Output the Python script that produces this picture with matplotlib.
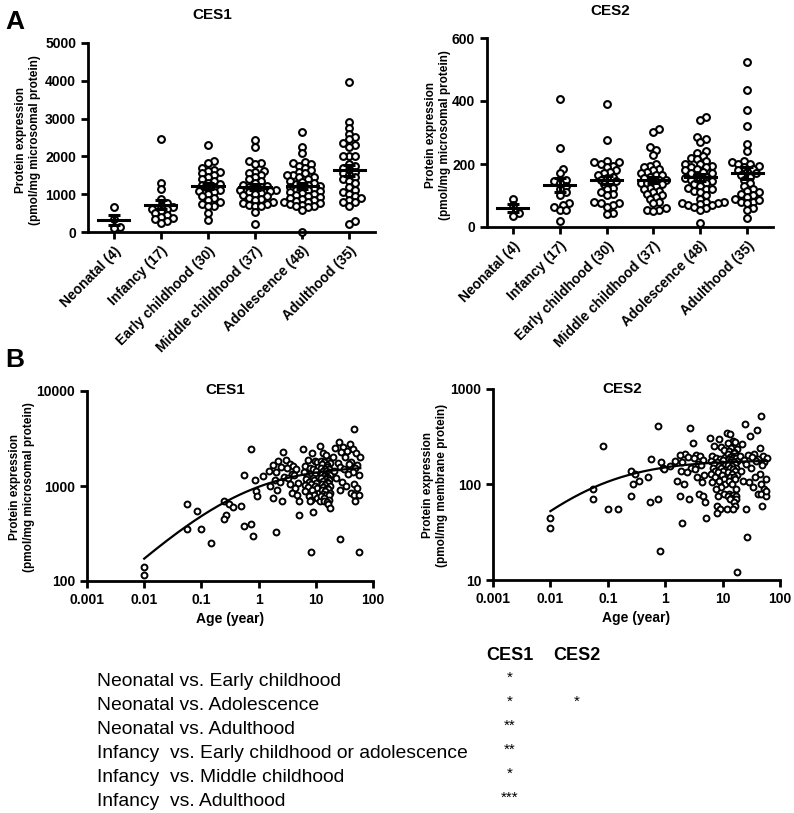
import numpy as np
import matplotlib
matplotlib.use("Agg")
import matplotlib.pyplot as plt
from matplotlib.ticker import FixedLocator, FixedFormatter

plt.rcParams['font.family'] = ['Liberation Sans', 'DejaVu Sans']

groups = ['Neonatal (4)', 'Infancy (17)', 'Early childhood (30)',
          'Middle childhood (37)', 'Adolescence (48)', 'Adulthood (35)']

# CES1 (pmol/mg microsomal protein), one list per age group
ces1_neonatal = [650, 350, 140, 115]
ces1_infancy = [2460, 1300, 1150, 880, 780, 700, 650, 620, 600, 550, 500, 450, 400, 380, 350, 300, 250]
ces1_early = [2300, 1880, 1820, 1700, 1650, 1620, 1580, 1550, 1500, 1450, 1400, 1350, 1300, 1280, 1250,
              1200, 1150, 1100, 1080, 1050, 1000, 950, 900, 850, 800, 750, 700, 700, 500, 330]
ces1_middle = [2430, 2250, 1880, 1830, 1800, 1620, 1600, 1550, 1500, 1450, 1400, 1350, 1300, 1250, 1220,
               1200, 1180, 1150, 1120, 1100, 1080, 1050, 1020, 1000, 980, 950, 900, 880, 850, 800,
               780, 750, 720, 700, 700, 530, 200]
ces1_adolescence = [2650, 2250, 2100, 1850, 1830, 1800, 1750, 1700, 1650, 1600, 1550, 1500, 1500, 1450, 1450,
                    1400, 1350, 1320, 1300, 1280, 1250, 1220, 1200, 1180, 1150, 1120, 1100, 1080, 1050, 1020,
                    1000, 980, 950, 920, 900, 880, 850, 820, 800, 800, 780, 750, 720, 700, 680, 650, 580, 10]
ces1_adult = [3980, 2900, 2750, 2600, 2500, 2450, 2350, 2300, 2250, 2000, 2000, 2000, 1800, 1750, 1700,
              1650, 1600, 1550, 1500, 1450, 1400, 1350, 1300, 1200, 1100, 1050, 1000, 950, 900, 850,
              800, 800, 700, 280, 200]

# CES2, same samples
ces2_neonatal = [90, 70, 45, 35]
ces2_infancy = [405, 185, 170, 150, 145, 140, 130, 120, 110, 250, 100, 75, 70, 65, 55, 20, 55]
ces2_early = [390, 275, 210, 205, 205, 200, 195, 190, 180, 175, 170, 165, 160, 155, 150,
              145, 140, 135, 125, 120, 110, 105, 100, 80, 75, 75, 70, 65, 45, 40]
ces2_middle = [310, 300, 255, 245, 230, 200, 195, 190, 185, 180, 175, 170, 165, 165, 160,
               155, 150, 150, 145, 140, 140, 135, 130, 125, 120, 115, 110, 105, 100, 95,
               90, 80, 75, 60, 55, 55, 50]
ces2_adolescence = [350, 340, 285, 280, 270, 240, 235, 225, 220, 215, 210, 200, 200, 195, 190,
                    190, 185, 180, 175, 170, 170, 165, 160, 155, 150, 150, 145, 140, 135, 130,
                    125, 120, 120, 115, 110, 100, 90, 80, 78, 75, 75, 72, 70, 70, 65, 60, 12, 55]
ces2_adult = [525, 435, 370, 320, 265, 240, 210, 205, 200, 200, 195, 190, 185, 180, 175,
              170, 165, 160, 150, 140, 130, 120, 115, 110, 105, 100, 95, 90, 28, 80,
              80, 75, 60, 55, 85]

# age (years) of each sample
age_neonatal = [0.056, 0.056, 0.01, 0.01]
age_infancy = [0.75, 0.56, 0.85, 0.9, 0.95, 0.25, 0.3, 0.5, 0.35, 0.084, 0.27, 0.25, 0.75, 0.55, 0.1, 0.8, 0.15]
age_early = [2.7, 3.0, 2.2, 3.5, 1.8, 4.0, 2.5, 3.2, 4.5, 1.5, 2.0, 3.8, 4.2, 1.2, 2.8,
             3.3, 1.9, 2.4, 4.8, 3.6, 1.6, 4.4, 2.1, 3.9, 4.6, 1.8, 2.6, 5.0, 5.1, 2.0]
age_middle = [6.0, 8.5, 7.2, 9.5, 10.5, 6.5, 11.0, 7.8, 9.0, 10.0, 6.2, 8.0, 9.8, 7.0, 10.8,
              8.8, 6.8, 9.2, 11.5, 7.5, 10.2, 8.2, 6.4, 9.6, 7.4, 10.6, 8.6, 6.6, 11.2, 9.4,
              7.6, 10.4, 8.4, 7.9, 11.8, 9.1, 8.1]
age_adolescence = [12.0, 13.5, 15.0, 16.5, 12.5, 14.0, 17.5, 13.0, 15.5, 16.0, 12.2, 14.5, 17.0, 13.2, 15.2,
                   16.8, 12.8, 14.2, 17.8, 13.8, 15.8, 16.2, 12.4, 14.8, 17.2, 13.4, 15.4, 16.6, 12.6, 14.4,
                   17.6, 13.6, 15.6, 16.4, 12.9, 14.6, 17.4, 13.1, 15.1, 16.9, 12.3, 14.1, 17.1, 13.7, 15.7,
                   16.3, 18.0, 14.9]
age_adult = [47, 25, 40, 30, 22, 45, 35, 28, 50, 20, 33, 60, 42, 24, 38, 52, 26, 48, 31, 21,
             44, 36, 58, 23, 29, 47, 34, 53, 27, 41, 46, 57, 49, 26, 56]

# fitted age curves (Emax, EC50 in years, hill)
fit_ces1 = (1650, 0.5, 0.55)
fit_ces2 = (180, 0.05, 0.55)

comparisons = ['Neonatal vs. Early childhood', 'Neonatal vs. Adolescence', 'Neonatal vs. Adulthood',
               'Infancy  vs. Early childhood or adolescence', 'Infancy  vs. Middle childhood',
               'Infancy  vs. Adulthood']
sig_ces1 = ['*', '*', '**', '**', '*', '***']
sig_ces2 = ['', '*', '', '', '', '']

ces1_groups = [ces1_neonatal, ces1_infancy, ces1_early, ces1_middle, ces1_adolescence, ces1_adult]
ces2_groups = [ces2_neonatal, ces2_infancy, ces2_early, ces2_middle, ces2_adolescence, ces2_adult]
age_groups = [age_neonatal, age_infancy, age_early, age_middle, age_adolescence, age_adult]

W, H = 794, 813
fig = plt.figure(figsize=(W / 100, H / 100), dpi=100)


def rect(l, t, r, b):
    return [l / W, 1 - b / H, (r - l) / W, (b - t) / H]


def swarm(vals, xpx, ypx, d=5.0):
    # simple beeswarm offsets (in category units), points may overlap a bit
    vals = np.asarray(vals, float)
    offs = np.zeros(len(vals))
    placed = []
    for i in np.argsort(vals):
        y = vals[i] * ypx
        k = 0
        while True:
            cands = [0.0] if k == 0 else [k * d * 0.6, -k * d * 0.6]
            done = False
            for c in cands:
                if all((c - px) ** 2 + (y - py) ** 2 >= d * d for px, py in placed):
                    offs[i] = c / xpx
                    placed.append((c, y))
                    done = True
                    break
            if done:
                break
            k += 1
    return offs


def style(ax):
    for s in ['top', 'right']:
        ax.spines[s].set_visible(False)
    for s in ['left', 'bottom']:
        ax.spines[s].set_linewidth(2)
    ax.tick_params(width=2, length=5, labelsize=10)
    for lab in ax.get_xticklabels() + ax.get_yticklabels():
        lab.set_fontweight('bold')


def dotplot(ax, data, ymax, yticks, xpx, ypx):
    for i, vals in enumerate(data):
        offs = swarm(vals, xpx, ypx)
        ax.scatter(i + offs, vals, s=24, facecolors='white', edgecolors='black', linewidths=1.5,
                   zorder=2, clip_on=False)
        m = np.mean(vals)
        sem = np.std(vals, ddof=1) / np.sqrt(len(vals))
        ax.plot([i - 0.33, i + 0.33], [m, m], color='black', lw=2.2, zorder=3)
        ax.errorbar(i, m, yerr=sem, color='black', lw=2.2, capsize=4, capthick=2.2, zorder=3)
    ax.set_xlim(-0.55, 5.55)
    ax.set_ylim(0, ymax)
    ax.set_yticks(yticks)
    ax.set_xticks(range(6))
    ax.set_xticklabels(groups, rotation=45, ha='right', va='top', rotation_mode='anchor',
                       fontsize=9, fontweight='bold')
    style(ax)


def agefit(ax, data, fit, ylim, yticks):
    for ages, vals in zip(age_groups, data):
        ax.scatter(ages, vals, s=18, facecolors='white', edgecolors='black', linewidths=1.4, zorder=2)
    emax, ec50, h = fit
    xx = np.logspace(np.log10(0.01), np.log10(60), 200)
    ax.plot(xx, emax * xx ** h / (ec50 ** h + xx ** h), color='black', lw=1.6, zorder=3)
    ax.set_xscale('log')
    ax.set_yscale('log')
    ax.set_xlim(0.001, 100)
    ax.set_ylim(*ylim)
    xt = [0.001, 0.01, 0.1, 1, 10, 100]
    ax.xaxis.set_major_locator(FixedLocator(xt))
    ax.xaxis.set_major_formatter(FixedFormatter(['0.001', '0.01', '0.1', '1', '10', '100']))
    ax.xaxis.set_minor_locator(FixedLocator([]))
    ax.yaxis.set_major_locator(FixedLocator(yticks))
    ax.yaxis.set_major_formatter(FixedFormatter([str(t) for t in yticks]))
    ax.yaxis.set_minor_locator(FixedLocator([]))
    style(ax)


# panel A
ax1 = fig.add_axes(rect(88, 43, 375, 232))
dotplot(ax1, ces1_groups, 5000, [0, 1000, 2000, 3000, 4000, 5000], 47.3, 189 / 5000)
ax2 = fig.add_axes(rect(487, 38, 773, 227))
dotplot(ax2, ces2_groups, 600, [0, 200, 400, 600], 46.6, 189 / 600)

# panel B
ax3 = fig.add_axes(rect(87, 391, 373, 581))
agefit(ax3, ces1_groups, fit_ces1, (100, 10000), [100, 1000, 10000])
ax4 = fig.add_axes(rect(493, 389, 780, 580))
agefit(ax4, ces2_groups, fit_ces2, (10, 1000), [10, 100, 1000])
for ax in (ax3, ax4):
    ax.set_xlabel('Age (year)', fontsize=10, fontweight='bold', labelpad=4)


def ftext(x, y, s, **kw):
    fig.text(x / W, 1 - y / H, s, **kw)


ftext(5, 22, 'A', fontsize=19, fontweight='bold', va='center')
ftext(5, 360, 'B', fontsize=19, fontweight='bold', va='center')
ftext(212, 15, 'CES1', fontsize=11, fontweight='bold', ha='center', va='center')
ftext(610, 11, 'CES2', fontsize=11, fontweight='bold', ha='center', va='center')
ftext(225, 390, 'CES1', fontsize=11, fontweight='bold', ha='center', va='center')
ftext(622, 389, 'CES2', fontsize=11, fontweight='bold', ha='center', va='center')

ylab_kw = dict(fontsize=8.5, fontweight='bold', rotation=90, ha='center', va='center', multialignment='center')
ftext(28, 140, 'Protein expression\n(pmol/mg microsomal protein)', **ylab_kw)
ftext(438, 135, 'Protein expression\n(pmol/mg microsomal protein)', **ylab_kw)
ftext(22, 487, 'Protein expression\n(pmol/mg microsomal protein)', **ylab_kw)
ftext(435, 485, 'Protein expression\n(pmol/mg membrane protein)', **ylab_kw)

# significance table
ftext(510, 656, 'CES1', fontsize=13, fontweight='bold', ha='center', va='center')
ftext(577, 656, 'CES2', fontsize=13, fontweight='bold', ha='center', va='center')
for k, (c, s1, s2) in enumerate(zip(comparisons, sig_ces1, sig_ces2)):
    y = 681 + 24 * k
    ftext(97, y, c, fontsize=13.9, ha='left', va='center')
    ftext(510, y - 3, s1, fontsize=11, ha='center', va='center')
    ftext(577, y - 3, s2, fontsize=11, ha='center', va='center')

fig.savefig('out.png', dpi=100)
